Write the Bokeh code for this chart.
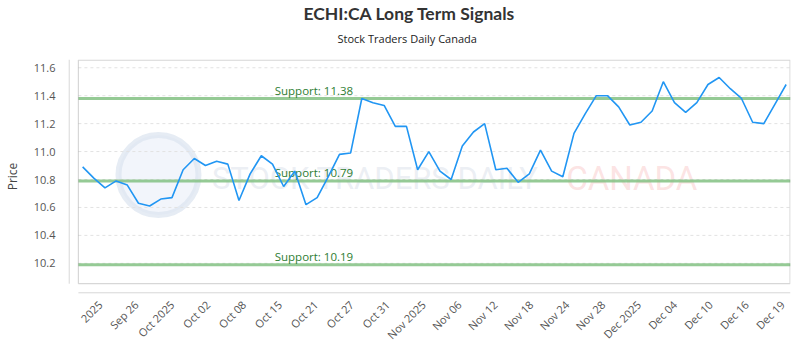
import math
from bokeh.plotting import figure
from bokeh.models import Range1d, FixedTicker, Title, BoxAnnotation, PrintfTickFormatter
from bokeh.core.properties import value
from bokeh.embed import file_html
from bokeh.resources import INLINE

# ---- data ----
prices = [10.89, 10.81, 10.74, 10.79, 10.76, 10.63, 10.61, 10.66, 10.67, 10.87,
          10.95, 10.90, 10.93, 10.91, 10.65, 10.84, 10.97, 10.91, 10.75, 10.86,
          10.62, 10.67, 10.82, 10.98, 10.99, 11.38, 11.35, 11.33, 11.18, 11.18,
          10.87, 11.00, 10.86, 10.80, 11.04, 11.14, 11.20, 10.87, 10.88, 10.78,
          10.84, 11.01, 10.86, 10.82, 11.13, 11.27, 11.40, 11.40, 11.32, 11.19,
          11.21, 11.29, 11.50, 11.35, 11.28, 11.35, 11.48, 11.53, 11.45, 11.38,
          11.21, 11.20, 11.34, 11.48]
x_idx = list(range(len(prices)))

tick_labels = ["2025", "Sep 26", "Oct 2025", "Oct 02", "Oct 08", "Oct 15", "Oct 21",
               "Oct 27", "Oct 31", "Nov 2025", "Nov 06", "Nov 12", "Nov 18", "Nov 24",
               "Nov 28", "Dec 2025", "Dec 04", "Dec 10", "Dec 16", "Dec 19"]
support_levels = [11.38, 10.79, 10.19]
support_texts = ["Support: 11.38", "Support: 10.79", "Support: 10.19"]
y_ticks = [10.2, 10.4, 10.6, 10.8, 11.0, 11.2, 11.4, 11.6]

# ---- layout helpers (positions, not data) ----
X0, X1 = -1.267, 63.39
Y0, Y1 = 9.984, 11.659
BOX_L, BOX_B = -0.381, 10.054
tick_pos = [round(1.58 + 3.215 * k, 3) for k in range(len(tick_labels))]

FONT = "Open Sans"

p = figure(width=800, height=350, output_backend="svg", toolbar_location=None,
           x_range=Range1d(X0, X1), y_range=Range1d(Y0, Y1),
           min_border_left=60, min_border_right=10, min_border_top=59,
           min_border_bottom=54, title=None)
p.outline_line_color = None
p.background_fill_color = "white"
p.border_fill_color = "white"
p.xgrid.visible = False
p.ygrid.visible = False

# faint watermark
p.scatter([6.79], [10.832], size=80, fill_color="#e9eff8", fill_alpha=0.6,
          line_color="#dce4f0", line_alpha=0.7, line_width=6)
p.text([11.58], [10.81], text=["STOCK TRADERS DAILY"], text_font=value("Roboto"),
       text_font_size="31px", text_color="#d5dbe6", text_alpha=0.45,
       text_baseline="middle", text_align="left")
p.text([43.3], [10.81], text=["CANADA"], text_font=value("Roboto"),
       text_font_size="33px", text_color="#f7b9b9", text_alpha=0.4,
       text_baseline="middle", text_align="left")

# dashed horizontal grid
p.segment(x0=[BOX_L] * len(y_ticks), x1=[X1] * len(y_ticks), y0=y_ticks, y1=y_ticks,
          line_color="#e2e2e2", line_width=1, line_dash="3 3")

# support lines
p.segment(x0=[BOX_L] * 3, x1=[X1] * 3, y0=support_levels, y1=support_levels,
          line_color="#82c182", line_width=3, line_alpha=0.85)
p.text(x=[17.2] * 3, y=support_levels, text=support_texts, text_font=value(FONT),
       text_font_size="11.5px", text_color="#2e7d32", text_baseline="alphabetic",
       text_align="left", y_offset=-8)

# price line
p.line(x_idx, prices, line_color="#2196f3", line_width=1.6)

# plot box and offset axis lines
p.add_layout(BoxAnnotation(left=BOX_L, right=X1 - 0.04, top=Y1 - 0.004, bottom=BOX_B,
                           fill_alpha=0, line_color="#7a7a7a", line_width=1.2))
p.segment(x0=[X0 + 0.05], x1=[X0 + 0.05], y0=[BOX_B], y1=[Y1], line_color="#cccccc", line_width=1)
p.segment(x0=[BOX_L], x1=[X1], y0=[Y0 + 0.004], y1=[Y0 + 0.004], line_color="#cccccc", line_width=1)

# axes
for ax in (p.xaxis[0], p.yaxis[0]):
    ax.axis_line_color = None
    ax.major_tick_line_color = None
    ax.minor_tick_line_color = None
    ax.major_label_text_font = FONT
    ax.major_label_text_font_size = "11px"
    ax.major_label_text_color = "#555555"

p.xaxis.ticker = FixedTicker(ticks=tick_pos)
p.xaxis.major_label_overrides = {t: lab for t, lab in zip(tick_pos, tick_labels)}
p.xaxis.major_label_orientation = math.pi / 4
p.xaxis.major_label_standoff = 3

p.yaxis.ticker = FixedTicker(ticks=y_ticks)
p.yaxis.formatter = PrintfTickFormatter(format="%.1f")
p.yaxis.major_label_standoff = 7
p.yaxis.axis_label = "Price"
p.yaxis.axis_label_text_font = FONT
p.yaxis.axis_label_text_font_size = "12px"
p.yaxis.axis_label_text_font_style = "normal"
p.yaxis.axis_label_text_color = "#444444"
p.yaxis.axis_label_standoff = 10

# titles: centred on the canvas (x = 400) via left alignment + offset
p.add_layout(Title(text="Stock Traders Daily Canada", align="left", offset=269,
                   standoff=27, vertical_align="bottom",
                   text_font=FONT, text_font_size="11px", text_font_style="normal",
                   text_color="#222222"), "above")
p.add_layout(Title(text="ECHI:CA Long Term Signals", align="left", offset=235,
                   standoff=-17, vertical_align="bottom",
                   text_font="Lato", text_font_size="17.5px", text_font_style="bold",
                   text_color="#333333"), "above")

open("out.html", "w").write(file_html(p, INLINE))
